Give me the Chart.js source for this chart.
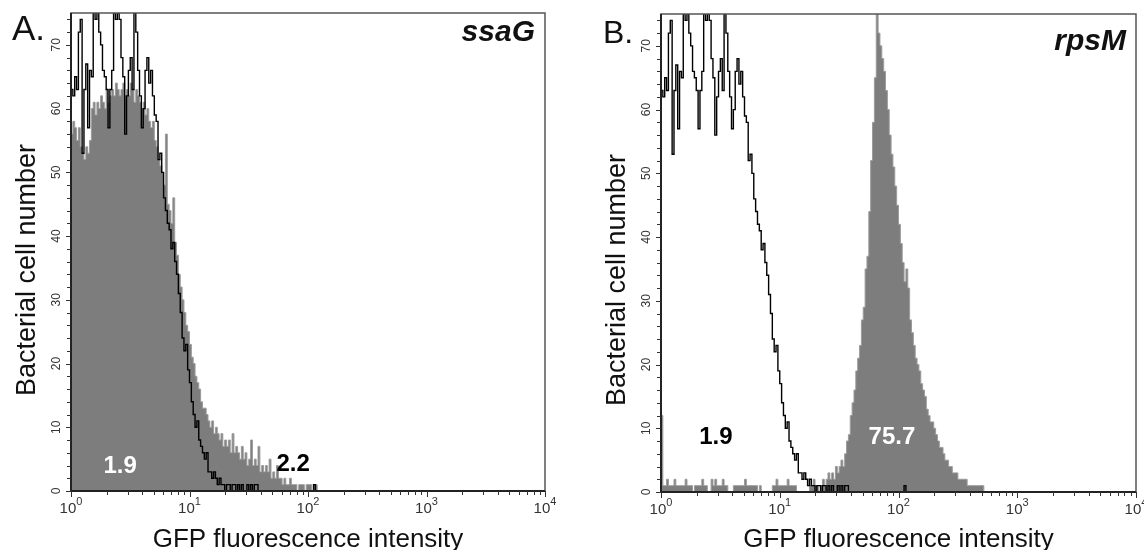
<!DOCTYPE html>
<html>
<head>
<meta charset="utf-8">
<script src="https://cdn.jsdelivr.net/npm/chart.js@4.4.1/dist/chart.umd.min.js"></script>
<style>
  body { margin: 0; background: #fff; }
  .panel { position: absolute; top: 0; width: 572px; height: 550px; }
</style>
</head>
<body>
<div class="panel" style="left:0"><canvas id="chartA" width="572" height="550"></canvas></div>
<div class="panel" style="left:572px"><canvas id="chartB" width="572" height="550"></canvas></div>
<script>
// channels: 64 per decade, 10^0 .. 10^4
const binsPerDecade = 64;
const decades = [1, 10, 100, 1000, 10000];
const yTickValues = [0, 10, 20, 30, 40, 50, 60, 70];
const yMinorStep = 2;
const yMax = 75;

// negative control (black outline, same in both panels)
const controlCounts = [
  63, 62, 65, 63, 72, 74, 53, 63, 67, 57,
  66, 65, 75, 74, 75, 72, 70, 66, 65, 63,
  57, 63, 66, 75, 74, 75, 74, 68, 65, 56,
  62, 66, 68, 63, 75, 72, 66, 62, 57, 60,
  66, 68, 64, 66, 62, 59, 58, 52, 53, 50,
  46, 44, 42, 41, 38, 39, 36, 34, 31, 28,
  24, 22, 23, 19, 17, 14, 12, 10, 11, 8,
  7, 6, 5, 6, 3, 3, 2, 3, 2, 1,
  2, 1, 1, 0, 1, 1, 0, 1, 1, 0,
  1, 0, 1, 0, 0, 1, 0, 1, 0, 1,
  1, 0, 0, 0, 0, 0, 0, 0, 0, 0,
  0, 0, 0, 0, 0, 0, 0, 0, 0, 0,
  0, 0, 0, 0, 0, 0, 0, 0, 0, 0,
  0, 1
];

// ssaG::gfp (grey filled)
const ssaGCounts = [
  56, 58, 57, 55, 57, 54, 53, 52, 54, 53,
  55, 60, 61, 59, 61, 60, 62, 61, 60, 63,
  61, 62, 63, 62, 64, 63, 62, 63, 64, 62,
  63, 62, 64, 63, 61, 63, 62, 61, 60, 61,
  59, 60, 58, 57, 58, 55, 54, 52, 51, 50,
  48, 56, 45, 44, 42, 46, 39, 37, 34, 32,
  30, 28, 26, 25, 23, 21, 20, 18, 17, 16,
  14, 13, 13, 12, 11, 10, 11, 9, 10, 9,
  8, 9, 7, 8, 7, 8, 6, 9, 6, 7,
  6, 5, 7, 5, 6, 4, 5, 8, 4, 5,
  4, 7, 3, 4, 3, 4, 3, 5, 2, 3,
  2, 4, 2, 2, 1, 2, 1, 1, 2, 1,
  1, 1, 0, 1, 1, 1, 0, 1, 1, 1,
  0, 1, 1
];

// rpsM::gfp (grey filled)
const rpsMCounts = [
  12, 1, 1, 2, 1, 1, 1, 2, 1, 1,
  1, 1, 1, 2, 1, 1, 1, 0, 1, 1,
  1, 1, 2, 1, 1, 0, 0, 2, 1, 2,
  1, 1, 1, 2, 1, 1, 0, 0, 0, 1,
  1, 1, 1, 1, 1, 2, 1, 1, 1, 1,
  1, 1, 0, 1, 0, 0, 0, 0, 0, 0,
  1, 1, 2, 1, 1, 1, 1, 1, 2, 1,
  1, 1, 1, 0, 0, 0, 0, 0, 0, 0,
  1, 1, 2, 1, 1, 0, 1, 2, 1, 2,
  3, 2, 3, 2, 4, 3, 4, 5, 4, 6,
  8, 9, 12, 14, 16, 19, 21, 23, 27, 29,
  35, 37, 44, 52, 58, 65, 75, 72, 70, 68,
  66, 63, 60, 56, 53, 51, 48, 45, 42, 39,
  36, 33, 35, 32, 27, 25, 23, 21, 20, 19,
  17, 16, 15, 13, 12, 11, 11, 10, 9, 8,
  7, 7, 6, 5, 5, 4, 4, 3, 3, 3,
  2, 2, 2, 2, 2, 1, 1, 1, 1, 1,
  1, 1, 1, 1
];

const ssaGMeans = ['1.9', '2.2'];
const rpsMMeans = ['1.9', '75.7'];

const fontFamily = '"Liberation Sans", Arial, sans-serif';

function toPoints(counts) {
  const pts = counts.map((c, i) => ({ x: 10 ** (i / binsPerDecade), y: c }));
  pts.push({ x: 10 ** (counts.length / binsPerDecade), y: 0 });
  return pts;
}

const panelDecor = {
  id: 'panelDecor',
  afterDraw(chart, args, o) {
    const { ctx, chartArea: a, scales: { x, y } } = chart;
    ctx.save();

    // frame
    ctx.strokeStyle = '#555';
    ctx.lineWidth = 1.5;
    ctx.strokeRect(a.left, a.top, a.right - a.left, a.bottom - a.top);
    ctx.strokeStyle = '#222';
    ctx.lineWidth = 2;
    ctx.beginPath();
    ctx.moveTo(a.left, a.top);
    ctx.lineTo(a.left, a.bottom);
    ctx.lineTo(a.right, a.bottom);
    ctx.stroke();

    // tick marks
    ctx.strokeStyle = '#333';
    ctx.lineWidth = 1;
    ctx.beginPath();
    for (let v = 0; v <= y.max; v += yMinorStep) {
      const py = Math.round(y.getPixelForValue(v)) + 0.5;
      const len = v % 10 === 0 ? 5 : 4;
      ctx.moveTo(a.left - len, py);
      ctx.lineTo(a.left, py);
    }
    decades.forEach((d, k) => {
      let px = Math.round(x.getPixelForValue(d)) + 0.5;
      ctx.moveTo(px, a.bottom);
      ctx.lineTo(px, a.bottom + 6);
      if (k < decades.length - 1) {
        for (let m = 2; m <= 9; m++) {
          px = Math.round(x.getPixelForValue(d * m)) + 0.5;
          ctx.moveTo(px, a.bottom);
          ctx.lineTo(px, a.bottom + 4);
        }
      }
    });
    ctx.stroke();

    // y tick labels (rotated)
    ctx.fillStyle = '#333';
    ctx.font = '12px ' + fontFamily;
    ctx.textAlign = 'center';
    ctx.textBaseline = 'middle';
    yTickValues.forEach(v => {
      ctx.save();
      ctx.translate(a.left - 14, y.getPixelForValue(v));
      ctx.rotate(-Math.PI / 2);
      ctx.fillText(String(v), 0, 0);
      ctx.restore();
    });

    // x tick labels 10^n
    ctx.textBaseline = 'alphabetic';
    ctx.textAlign = 'left';
    decades.forEach(d => {
      const exp = String(Math.round(Math.log10(d)));
      ctx.font = '15px ' + fontFamily;
      const wBase = ctx.measureText('10').width;
      ctx.font = '11px ' + fontFamily;
      const wExp = ctx.measureText(exp).width;
      const left = x.getPixelForValue(d) - (wBase + wExp) / 2;
      ctx.font = '15px ' + fontFamily;
      ctx.fillText('10', left, a.bottom + 22);
      ctx.font = '11px ' + fontFamily;
      ctx.fillText(exp, left + wBase, a.bottom + 14);
    });

    // axis titles
    ctx.fillStyle = '#111';
    ctx.font = '26px ' + fontFamily;
    ctx.textAlign = 'center';
    ctx.fillText('GFP fluorescence intensity', (a.left + a.right) / 2, 547);
    ctx.save();
    ctx.font = '27px ' + fontFamily;
    ctx.translate(a.left - 36, o.yTitleY);
    ctx.rotate(-Math.PI / 2);
    ctx.fillText('Bacterial cell number', 0, 0);
    ctx.restore();

    // panel letter and gene name
    ctx.textAlign = 'left';
    ctx.font = o.letterSize + 'px ' + fontFamily;
    ctx.fillText(o.letter, o.letterX, o.letterY);
    ctx.textAlign = 'right';
    ctx.font = 'italic bold 30px ' + fontFamily;
    ctx.fillText(o.gene, a.right - 10, o.geneY);

    // mean fluorescence values
    ctx.textAlign = 'center';
    ctx.font = 'bold 24px ' + fontFamily;
    o.notes.forEach(n => {
      ctx.fillStyle = n.color;
      ctx.fillText(n.text, x.getPixelForValue(n.x), y.getPixelForValue(n.y) + 8.5);
    });

    ctx.restore();
  }
};

function makePanel(canvasId, counts, decor, frame) {
  return new Chart(document.getElementById(canvasId), {
    type: 'line',
    data: {
      datasets: [
        {
          data: toPoints(controlCounts),
          stepped: 'before',
          borderColor: '#000',
          borderWidth: 1.4,
          pointRadius: 0,
          fill: false,
          order: 0
        },
        {
          data: toPoints(counts),
          stepped: 'before',
          borderColor: '#9c9c9c',
          borderWidth: 1,
          backgroundColor: '#7d7d7d',
          pointRadius: 0,
          fill: 'origin',
          order: 1
        }
      ]
    },
    options: {
      responsive: false,
      animation: false,
      devicePixelRatio: 1,
      layout: { padding: { left: 0, top: frame.top, right: frame.right, bottom: 0 } },
      plugins: {
        legend: { display: false },
        tooltip: { enabled: false },
        panelDecor: decor
      },
      scales: {
        x: {
          type: 'logarithmic',
          min: 1,
          max: 10000,
          grid: { display: false },
          border: { display: false },
          ticks: { display: false },
          afterFit: s => { s.height = frame.xHeight; }
        },
        y: {
          min: 0,
          max: yMax,
          grid: { display: false },
          border: { display: false },
          ticks: { display: false },
          afterFit: s => { s.width = frame.yWidth; }
        }
      }
    },
    plugins: [panelDecor]
  });
}

makePanel('chartA', ssaGCounts, {
  letter: 'A.', letterX: 12, letterY: 40, letterSize: 35,
  gene: 'ssaG', geneY: 41, yTitleY: 270,
  notes: [
    { text: ssaGMeans[0], x: 2.6, y: 4.1, color: '#fff' },
    { text: ssaGMeans[1], x: 75, y: 4.4, color: '#000' }
  ]
}, { top: 13, right: 27, xHeight: 59, yWidth: 71 });

makePanel('chartB', rpsMCounts, {
  letter: 'B.', letterX: 31, letterY: 43, letterSize: 32,
  gene: 'rpsM', geneY: 50, yTitleY: 280,
  notes: [
    { text: rpsMMeans[0], x: 2.9, y: 8.8, color: '#000' },
    { text: rpsMMeans[1], x: 88, y: 8.8, color: '#fff' }
  ]
}, { top: 14, right: 8, xHeight: 58, yWidth: 89 });
</script>
</body>
</html>
